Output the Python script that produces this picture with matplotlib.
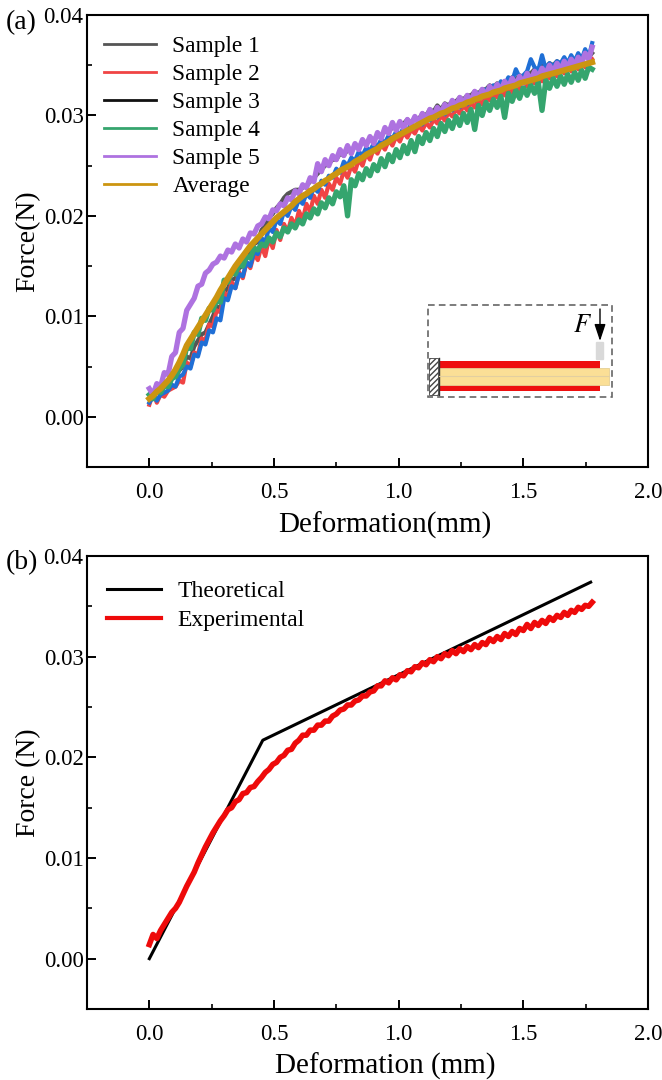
import matplotlib
matplotlib.use('Agg')
import matplotlib.pyplot as plt
from matplotlib.lines import Line2D
from matplotlib.patches import Rectangle, FancyBboxPatch

plt.rcParams['font.family'] = ['Liberation Serif', 'DejaVu Serif']
plt.rcParams['mathtext.fontset'] = 'stix'

deform = [0.000, 0.015, 0.030, 0.045, 0.060, 0.075, 0.090, 0.105, 0.120, 0.135,
          0.150, 0.165, 0.180, 0.195, 0.210, 0.225, 0.240, 0.255, 0.270, 0.285,
          0.300, 0.315, 0.330, 0.345, 0.360, 0.375, 0.390, 0.405, 0.420, 0.435,
          0.450, 0.465, 0.480, 0.495, 0.510, 0.525, 0.540, 0.555, 0.570, 0.585,
          0.600, 0.615, 0.630, 0.645, 0.660, 0.675, 0.690, 0.705, 0.720, 0.735,
          0.750, 0.765, 0.780, 0.795, 0.810, 0.825, 0.840, 0.855, 0.870, 0.885,
          0.900, 0.915, 0.930, 0.945, 0.960, 0.975, 0.990, 1.005, 1.020, 1.035,
          1.050, 1.065, 1.080, 1.095, 1.110, 1.125, 1.140, 1.155, 1.170, 1.185,
          1.200, 1.215, 1.230, 1.245, 1.260, 1.275, 1.290, 1.305, 1.320, 1.335,
          1.350, 1.365, 1.380, 1.395, 1.410, 1.425, 1.440, 1.455, 1.470, 1.485,
          1.500, 1.515, 1.530, 1.545, 1.560, 1.575, 1.590, 1.605, 1.620, 1.635,
          1.650, 1.664, 1.678, 1.692, 1.706, 1.720, 1.734, 1.748, 1.762, 1.776]

# forces below are in units of 1e-4 N
sample1 = [22, 18, 26, 24, 30, 32, 38, 40, 46, 50,
           60, 58, 70, 76, 82, 84, 92, 100, 110, 108,
           124, 128, 136, 138, 148, 150, 160, 164, 172, 174,
           186, 190, 198, 202, 208, 212, 218, 222, 224, 226,
           226, 228, 230, 234, 238, 242, 246, 250, 252, 256,
           256, 262, 260, 266, 264, 270, 268, 274, 272, 278,
           276, 280, 280, 284, 284, 288, 288, 292, 292, 296,
           292, 298, 296, 302, 300, 306, 304, 310, 306, 312,
           310, 314, 314, 318, 316, 320, 320, 324, 322, 326,
           326, 330, 328, 332, 330, 334, 334, 338, 336, 340,
           338, 342, 342, 346, 346, 350, 348, 352, 350, 354,
           350, 354, 352, 356, 354, 358, 356, 360, 358, 362]
sample2 = [12, 24, 14, 22, 20, 26, 28, 30, 36, 34,
           54, 50, 64, 62, 78, 76, 92, 90, 106, 104,
           124, 118, 134, 128, 144, 138, 154, 148, 162, 156,
           170, 160, 178, 168, 186, 176, 192, 184, 198, 190,
           205, 196, 212, 204, 220, 212, 226, 218, 232, 226,
           238, 232, 245, 238, 250, 244, 256, 250, 262, 256,
           267, 262, 271, 266, 275, 270, 279, 274, 283, 278,
           286, 282, 290, 285, 293, 288, 296, 292, 300, 295,
           303, 299, 306, 302, 310, 305, 313, 308, 316, 311,
           319, 315, 322, 318, 325, 320, 328, 323, 331, 326,
           334, 329, 336, 332, 339, 334, 341, 337, 344, 339,
           346, 342, 348, 344, 350, 346, 352, 348, 354, 356]
sample3 = [14, 20, 16, 22, 24, 26, 32, 30, 40, 42,
           50, 48, 62, 60, 74, 72, 86, 84, 98, 96,
           118, 116, 130, 128, 142, 140, 154, 150, 164, 162,
           178, 174, 188, 184, 196, 192, 204, 200, 210, 206,
           216, 212, 222, 218, 228, 224, 235, 231, 240, 238,
           247, 243, 254, 250, 258, 255, 264, 260, 268, 265,
           272, 269, 276, 273, 280, 277, 284, 281, 288, 285,
           291, 288, 294, 291, 298, 295, 301, 298, 304, 301,
           308, 305, 311, 308, 315, 311, 318, 315, 322, 318,
           326, 323, 330, 326, 334, 330, 338, 334, 346, 338,
           340, 344, 356, 348, 345, 360, 346, 352, 349, 354,
           352, 358, 352, 360, 354, 362, 356, 366, 358, 372]
sample4 = [22, 18, 27, 24, 31, 30, 38, 40, 48, 52,
           70, 68, 84, 82, 98, 96, 108, 106, 116, 114,
           136, 134, 144, 142, 152, 150, 160, 158, 168, 166,
           172, 170, 178, 174, 183, 179, 188, 184, 192, 188,
           196, 192, 202, 198, 207, 202, 213, 208, 218, 212,
           224, 219, 230, 200, 236, 230, 242, 236, 247, 240,
           251, 245, 257, 249, 261, 254, 266, 258, 270, 262,
           275, 264, 279, 272, 283, 275, 287, 279, 292, 284,
           295, 287, 299, 290, 302, 293, 306, 286, 310, 300,
           313, 305, 316, 308, 319, 298, 322, 314, 325, 317,
           328, 320, 330, 322, 333, 305, 335, 327, 337, 329,
           339, 331, 341, 333, 343, 335, 345, 337, 348, 346]
sample5 = [28, 22, 33, 30, 44, 42, 60, 64, 84, 88,
           106, 112, 118, 130, 132, 143, 146, 152, 154, 160,
           158, 166, 164, 172, 168, 177, 174, 183, 182, 190,
           192, 199, 197, 206, 205, 212, 210, 218, 216, 225,
           222, 231, 228, 238, 234, 252, 244, 256, 250, 260,
           256, 266, 260, 270, 262, 272, 266, 276, 270, 279,
           272, 283, 277, 288, 282, 293, 285, 294, 287, 296,
           291, 299, 293, 302, 296, 306, 299, 308, 302, 311,
           306, 315, 309, 318, 312, 320, 314, 324, 317, 326,
           320, 329, 323, 331, 325, 334, 328, 337, 330, 339,
           332, 342, 335, 344, 338, 347, 341, 350, 343, 352,
           345, 354, 347, 356, 349, 358, 352, 362, 356, 368]
average = [18, 21, 25, 28, 32, 36, 41, 47, 54, 62,
           71, 77, 83, 89, 95, 101, 107, 113, 119, 126,
           132, 138, 144, 150, 155, 160, 165, 170, 174, 178,
           182, 186, 190, 194, 198, 201, 204, 207, 210, 214,
           217, 220, 222, 225, 227, 230, 232, 235, 237, 240,
           242, 245, 247, 249, 251, 254, 256, 258, 261, 263,
           265, 267, 270, 272, 274, 277, 279, 281, 283, 285,
           287, 289, 291, 293, 295, 297, 298, 300, 302, 303,
           305, 307, 308, 310, 311, 313, 314, 316, 317, 319,
           320, 321, 323, 324, 325, 327, 328, 329, 330, 332,
           333, 334, 335, 336, 337, 339, 340, 341, 342, 343,
           344, 345, 346, 347, 348, 349, 350, 351, 352, 353]
experimental = [14, 24, 20, 28, 34, 40, 46, 50, 56, 64,
                72, 79, 86, 95, 103, 111, 118, 125, 131, 137,
                142, 148, 150, 156, 158, 164, 165, 170, 171, 176,
                180, 185, 188, 193, 195, 200, 202, 207, 208, 214,
                217, 222, 222, 227, 227, 232, 232, 236, 236, 241,
                243, 247, 248, 252, 252, 256, 257, 261, 261, 265,
                266, 271, 271, 276, 274, 279, 277, 282, 281, 286,
                285, 290, 289, 294, 292, 297, 295, 300, 298, 303,
                301, 306, 303, 308, 305, 310, 307, 312, 309, 314,
                312, 318, 315, 320, 317, 323, 320, 325, 322, 328,
                326, 332, 328, 334, 331, 336, 333, 339, 336, 341,
                339, 344, 341, 346, 344, 349, 347, 351, 350, 354]
theory_x = [0.0, 0.455, 1.77]
theory_y = [0.0, 0.0217, 0.0374]

xticks = [0.0, 0.5, 1.0, 1.5, 2.0]
yticks = [0.00, 0.01, 0.02, 0.03, 0.04]
sample_names = ['Sample 1', 'Sample 2', 'Sample 3', 'Sample 4', 'Sample 5', 'Average']
sample_colors = ['#555555', '#f04444', '#1f6fd6', '#35a56e', '#ae72e0', '#cc9510']
legend_colors = ['#555555', '#f04444', '#111111', '#35a56e', '#ae72e0', '#cc9510']
sample_widths = [3.0, 3.0, 3.0, 3.8, 3.8]

W, H = 662, 1080


def to_newton(vals):
    return [v * 1e-4 for v in vals]


def make_axes(fig, left, right, top, bottom):
    ax = fig.add_axes([left / W, 1 - bottom / H, (right - left) / W, (bottom - top) / H])
    ax.set_xlim(-0.25, 2.0)
    ax.set_ylim(-0.005, 0.04)
    ax.set_xticks(xticks)
    ax.set_xticks([0.25, 0.75, 1.25, 1.75], minor=True)
    ax.set_yticks(yticks)
    ax.set_yticks([0.005, 0.015, 0.025, 0.035], minor=True)
    ax.set_xticklabels(['0.0', '0.5', '1.0', '1.5', '2.0'])
    ax.set_yticklabels(['0.00', '0.01', '0.02', '0.03', '0.04'])
    ax.tick_params(which='major', direction='in', length=6.5, width=1.4, labelsize=16.5)
    ax.tick_params(which='minor', direction='in', length=3.5, width=1.2)
    ax.tick_params(axis='x', which='major', pad=11)
    ax.tick_params(axis='y', which='major', pad=2.5)
    for s in ax.spines.values():
        s.set_linewidth(1.5)
    return ax


fig = plt.figure(figsize=(W / 100, H / 100), dpi=100)

# panel a
ax1 = make_axes(fig, 87, 648, 15, 467)
series = [sample1, sample2, sample3, sample4, sample5]
for vals, col, lw in zip(series, sample_colors, sample_widths):
    ax1.plot(deform, to_newton(vals), color=col, lw=lw)
ax1.plot(deform, to_newton(average), color=sample_colors[5], lw=4.3)
ax1.set_xlabel('Deformation(mm)', fontsize=21)
ax1.xaxis.set_label_coords(0.531, -0.099)
ax1.set_ylabel('Force(N)', fontsize=20, labelpad=2)
handles = [Line2D([], [], color=c, lw=2) for c in legend_colors]
ax1.legend(handles, sample_names, loc='upper left', frameon=False, fontsize=16.8,
           bbox_to_anchor=(0.002, 0.991), handlelength=2.23, handletextpad=0.68,
           labelspacing=0.29, borderaxespad=0.3)
fig.text(6 / W, 1 - 29 / H, '(a)', fontsize=20)

# panel b
ax2 = make_axes(fig, 87, 648, 556, 1009)
ax2.plot(theory_x, theory_y, color='black', lw=2.2)
ax2.plot(deform, to_newton(experimental), color='#ee0a0a', lw=4.0)
ax2.set_xlabel('Deformation (mm)', fontsize=21)
ax2.xaxis.set_label_coords(0.531, -0.097)
ax2.set_ylabel('Force (N)', fontsize=20, labelpad=2)
handles2 = [Line2D([], [], color='black', lw=2.2), Line2D([], [], color='#ee0a0a', lw=3)]
ax2.legend(handles2, ['Theoretical', 'Experimental'], loc='upper left', frameon=False, fontsize=17,
           bbox_to_anchor=(0.0065, 0.982), handlelength=2.3, handletextpad=0.68,
           labelspacing=0.3, borderaxespad=0.3)
fig.text(6 / W, 1 - 569 / H, '(b)', fontsize=20)

# inset sketch, drawn in pixel coordinates of the figure
sk = fig.add_axes([0, 0, 1, 1], facecolor='none')
sk.set_xlim(0, W)
sk.set_ylim(H, 0)
sk.axis('off')
sk.add_patch(Rectangle((428, 305), 184, 92, fill=False, ec='#666666', lw=1.2, ls=(0, (4, 2.5))))
sk.add_patch(Rectangle((429, 358), 9, 37, fc='white', ec='#444444', lw=0.6, hatch='//////'))
sk.plot([438.5, 438.5], [358, 395], color='#333333', lw=1)
sk.add_patch(Rectangle((438.5, 361), 161.5, 30, fc='#ee0f0f', ec='none'))
sk.add_patch(Rectangle((438.5, 368), 170, 17, fc='#fbdf96', ec='#e5cf95', lw=0.6))
sk.plot([438.5, 608.5], [376, 376], color='#e3cfa0', lw=0.8)
sk.add_patch(FancyBboxPatch((597, 343), 6, 16, boxstyle='round,pad=1.2', fc='#d9d9d9', ec='none'))
sk.annotate('', xy=(600, 341), xytext=(600, 309),
            arrowprops=dict(arrowstyle='-|>,head_length=0.6,head_width=0.2', color='black', lw=1,
                            mutation_scale=17, shrinkA=0, shrinkB=0))
sk.text(583, 326, r'$F$', fontsize=19, ha='center', va='center')

fig.savefig('out.png', dpi=100)
